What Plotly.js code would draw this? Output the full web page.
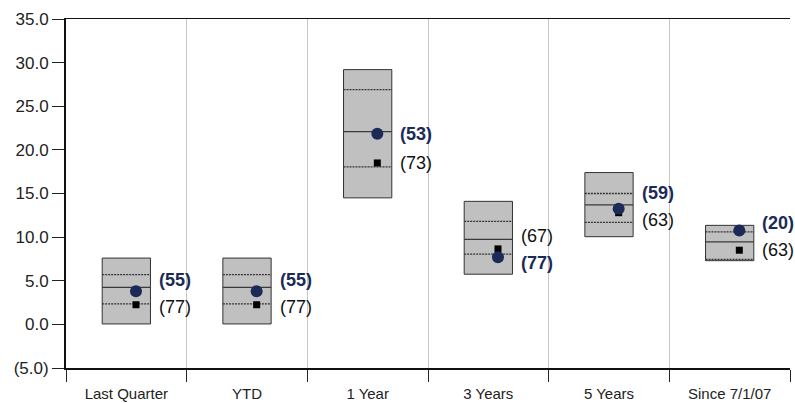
<!DOCTYPE html>
<html>
<head>
<meta charset="utf-8">
<script src="https://cdn.plot.ly/plotly-3.0.1.min.js"></script>
<style>html,body{margin:0;padding:0;background:#fff;}#chart{width:795px;height:403px;}</style>
</head>
<body>
<div id="chart"></div>
<script>
const categories = ['Last Quarter', 'YTD', '1 Year', '3 Years', '5 Years', 'Since 7/1/07'];
const p95 = [7.6, 7.6, 29.2, 14.1, 17.4, 11.35];
const p75 = [5.7, 5.7, 26.9, 11.8, 15.0, 10.6];
const p50 = [4.25, 4.25, 22.1, 9.75, 13.7, 9.45];
const p25 = [2.35, 2.35, 18.05, 8.05, 11.7, 7.45];
const p5 = [0.05, 0.05, 14.5, 5.75, 10.05, 7.3];
const portfolio = [3.8, 3.8, 21.85, 7.7, 13.25, 10.75];
const benchmark = [2.25, 2.25, 18.5, 8.65, 12.8, 8.5];
const portfolioRank = [55, 55, 53, 77, 59, 20];
const benchmarkRank = [77, 77, 73, 67, 63, 63];
const yTickVals = [-5, 0, 5, 10, 15, 20, 25, 30, 35];
const yTickText = ['(5.0)', '0.0', '5.0', '10.0', '15.0', '20.0', '25.0', '30.0', '35.0'];

const FONT = 'Liberation Sans, Arial, sans-serif';
const NAVY = '#1b2a57';
const centers = categories.map((c, i) => i + 0.5);

function seg(vals) {
  const xs = [], ys = [];
  vals.forEach((v, i) => { xs.push(i + 0.3, i + 0.7, null); ys.push(v, v, null); });
  return {xs, ys};
}

const traces = [];
traces.push({
  type: 'bar', x: centers, base: p5, y: p95.map((v, i) => v - p5[i]), width: 0.4,
  marker: {color: '#c0c0c0', line: {color: '#333', width: 1}}, hoverinfo: 'skip', showlegend: false
});
[[p75, '2px,1px', '#333'], [p50, 'solid', '#3a3a3a'], [p25, '2px,1px', '#333']].forEach(([arr, dash, col]) => {
  const s = seg(arr);
  traces.push({type: 'scatter', mode: 'lines', x: s.xs, y: s.ys, line: {color: col, width: 1.3, dash: dash}, hoverinfo: 'skip', showlegend: false});
});
traces.push({
  type: 'scatter', mode: 'markers', x: centers.map(c => c + 0.08), y: benchmark,
  marker: {symbol: 'square', color: '#000', size: 7}, showlegend: false
});
traces.push({
  type: 'scatter', mode: 'markers', x: centers.map(c => c + 0.08), y: portfolio,
  marker: {symbol: 'circle', color: NAVY, size: 12}, showlegend: false
});
// dummy trace to activate xaxis2
traces.push({type: 'scatter', x: [0], y: [0], xaxis: 'x2', mode: 'markers', marker: {opacity: 0}, hoverinfo: 'skip', showlegend: false});

const plotH = 403 - 19 - 35;
const ppu = plotH / 40;
const annotations = [];
categories.forEach((c, i) => {
  let yp = portfolio[i], yb = benchmark[i];
  const hi = Math.max(yp, yb), lo = Math.min(yp, yb);
  if ((hi - lo) * ppu < 27) {
    const mid = (hi + lo) / 2 + 4 / ppu;
    const hiY = mid + 13.5 / ppu, loY = mid - 13.5 / ppu;
    if (yp >= yb) { yp = hiY; yb = loY; } else { yb = hiY; yp = loY; }
  }
  annotations.push({x: i + 0.755, y: yp, xref: 'x', yref: 'y', xanchor: 'left', yanchor: 'middle', showarrow: false,
    text: '<b>(' + portfolioRank[i] + ')</b>', font: {family: FONT, size: 18, color: NAVY}});
  annotations.push({x: i + 0.755, y: yb, xref: 'x', yref: 'y', xanchor: 'left', yanchor: 'middle', showarrow: false,
    text: '(' + benchmarkRank[i] + ')', font: {family: FONT, size: 18, color: '#111'}});
});

const layout = {
  width: 795, height: 403,
  margin: {l: 66, r: 5, t: 19, b: 35},
  paper_bgcolor: '#fff', plot_bgcolor: '#fff',
  font: {family: FONT, color: '#222'},
  showlegend: false,
  bargap: 0,
  xaxis: {
    range: [0, 6], tickvals: [0, 1, 2, 3, 4, 5, 6], showticklabels: false,
    ticks: 'outside', ticklen: 12, tickcolor: '#222', tickwidth: 1,
    showgrid: true, gridcolor: '#c8c8c8', gridwidth: 1,
    showline: true, linecolor: '#111', linewidth: 1.5, mirror: true, zeroline: false, fixedrange: true
  },
  xaxis2: {
    range: [0, 6], overlaying: 'x', side: 'bottom', anchor: 'y',
    tickvals: centers, ticktext: categories, ticks: 'outside', ticklen: 12, tickcolor: 'rgba(0,0,0,0)',
    tickfont: {family: FONT, size: 15, color: '#222'}, showgrid: false, showline: false, zeroline: false
  },
  yaxis: {
    range: [-5, 35], tickvals: yTickVals, ticktext: yTickText,
    ticks: 'outside', ticklen: 12, tickcolor: '#222', tickwidth: 1,
    tickfont: {family: FONT, size: 17, color: '#222'},
    showgrid: false, zeroline: false, showline: true, linecolor: '#111', linewidth: 2, fixedrange: true
  },
  annotations: annotations
};

Plotly.newPlot('chart', traces, layout, {displayModeBar: false, staticPlot: true});
</script>
</body>
</html>
